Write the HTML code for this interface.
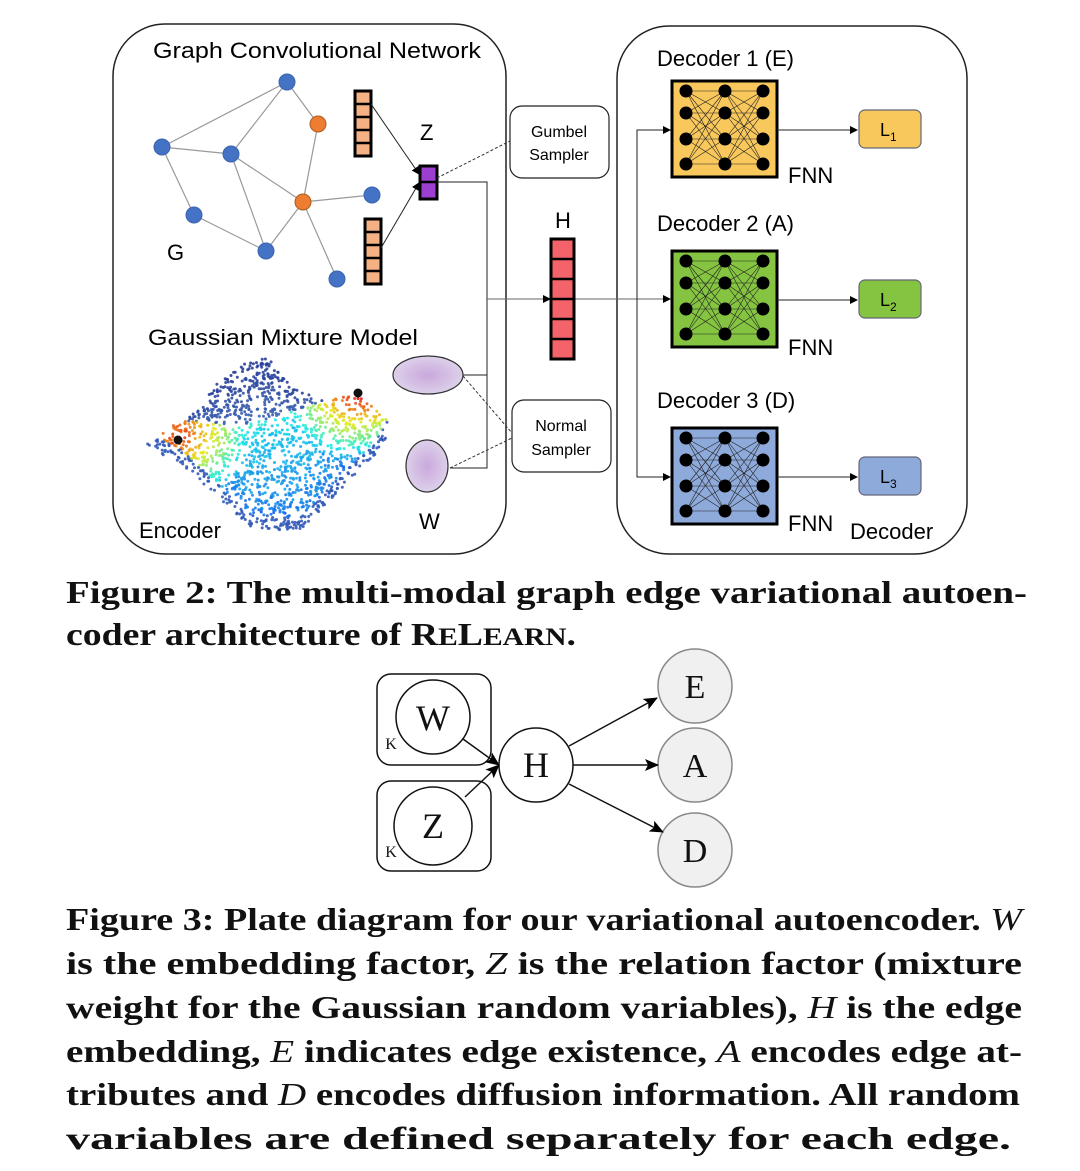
<!DOCTYPE html>
<html><head><meta charset="utf-8"><style>
html,body{margin:0;padding:0;background:#fff;}
svg{display:block;}
.s{font-family:"Liberation Sans",sans-serif;}
.c{font-family:"Liberation Serif",serif;font-weight:bold;font-size:32px;fill:#111;}
.i{font-style:italic;font-weight:normal;}
</style></head><body>
<svg id="sv" width="1080" height="1171" viewBox="0 0 1080 1171" xmlns="http://www.w3.org/2000/svg">
<defs>
<marker id="ar" markerWidth="8" markerHeight="8" refX="7" refY="4" orient="auto" markerUnits="userSpaceOnUse"><path d="M0,0 L8,4 L0,8 z" fill="#000"/></marker>
<marker id="ab" markerWidth="14" markerHeight="12" refX="13" refY="6" orient="auto" markerUnits="userSpaceOnUse"><path d="M0,0 L14,6 L0,12 L3,6 z" fill="#000"/></marker>
<radialGradient id="eg"><stop offset="0" stop-color="#c9a8dc"/><stop offset="1" stop-color="#ddd0ea"/></radialGradient>
</defs>
<rect x="113" y="24" width="393" height="530" rx="52" fill="none" stroke="#222" stroke-width="1.5"/>
<rect x="617" y="26" width="350" height="528" rx="52" fill="none" stroke="#222" stroke-width="1.5"/>
<text class="s" x="153" y="58" font-size="22" textLength="328" lengthAdjust="spacingAndGlyphs">Graph Convolutional Network</text>
<g stroke="#999" stroke-width="1.2">
<line x1="287" y1="82" x2="162" y2="147"/><line x1="287" y1="82" x2="231" y2="154"/><line x1="287" y1="82" x2="318" y2="124"/>
<line x1="162" y1="147" x2="231" y2="154"/><line x1="162" y1="147" x2="194" y2="215"/>
<line x1="231" y1="154" x2="303" y2="202"/><line x1="231" y1="154" x2="266" y2="251"/>
<line x1="318" y1="124" x2="303" y2="202"/><line x1="303" y1="202" x2="372" y2="195"/>
<line x1="303" y1="202" x2="266" y2="251"/><line x1="303" y1="202" x2="337" y2="279"/>
<line x1="194" y1="215" x2="266" y2="251"/>
</g>
<g fill="#4472c4" stroke="#3a64b0" stroke-width="1">
<circle cx="287" cy="82" r="8"/><circle cx="162" cy="147" r="8"/><circle cx="231" cy="154" r="8"/>
<circle cx="372" cy="195" r="8"/><circle cx="194" cy="215" r="8"/><circle cx="266" cy="251" r="8"/><circle cx="337" cy="279" r="8"/>
</g>
<g fill="#ed7d31" stroke="#b05a20" stroke-width="1"><circle cx="318" cy="124" r="8"/><circle cx="303" cy="202" r="8"/></g>
<text class="s" x="167" y="260" font-size="22">G</text>
<g id="ov"></g>
<text class="s" x="420" y="140" font-size="22">Z</text>
<line x1="371" y1="104" x2="419" y2="174" stroke="#222" stroke-width="1" marker-end="url(#ar)"/>
<line x1="381" y1="248" x2="419" y2="183" stroke="#222" stroke-width="1" marker-end="url(#ar)"/>
<rect x="420" y="166" width="17" height="33" fill="#9a3fd0" stroke="#000" stroke-width="3"/>
<line x1="420" y1="182" x2="437" y2="182" stroke="#000" stroke-width="2.5"/>
<polyline points="437,182 487,182 487,468 450,468" fill="none" stroke="#222" stroke-width="1"/>
<line x1="463" y1="375" x2="487" y2="375" stroke="#222" stroke-width="1"/>
<line x1="487" y1="299" x2="550" y2="299" stroke="#666" stroke-width="1" marker-end="url(#ar)"/>
<line x1="574" y1="299" x2="670" y2="299" stroke="#666" stroke-width="1" marker-end="url(#ar)"/>
<g stroke="#333" stroke-width="1" stroke-dasharray="3,2" fill="none">
<line x1="437" y1="178" x2="510" y2="141"/><line x1="463" y1="376" x2="512" y2="433"/><line x1="450" y1="468" x2="512" y2="438"/>
</g>
<rect x="510" y="106" width="99" height="72" rx="12" fill="#fff" stroke="#222" stroke-width="1.2"/>
<text class="s" x="559" y="137" font-size="16" text-anchor="middle">Gumbel</text>
<text class="s" x="559" y="160" font-size="16" text-anchor="middle">Sampler</text>
<rect x="512" y="400" width="99" height="72" rx="12" fill="#fff" stroke="#222" stroke-width="1.2"/>
<text class="s" x="561" y="431" font-size="16" text-anchor="middle">Normal</text>
<text class="s" x="561" y="455" font-size="16" text-anchor="middle">Sampler</text>
<text class="s" x="563" y="228" font-size="22" text-anchor="middle">H</text>
<g id="hv"></g>
<text class="s" x="148" y="345" font-size="22" textLength="270" lengthAdjust="spacingAndGlyphs">Gaussian Mixture Model</text>
<ellipse cx="428" cy="375" rx="35" ry="19" fill="url(#eg)" stroke="#333" stroke-width="1.2"/>
<ellipse cx="427" cy="466" rx="21" ry="26" fill="url(#eg)" stroke="#333" stroke-width="1.2"/>
<text class="s" x="419" y="529" font-size="22">W</text>
<g id="pts"></g>
<circle cx="178" cy="440" r="4.5" fill="#111"/><circle cx="358" cy="393" r="4.5" fill="#111"/>
<text class="s" x="139" y="538" font-size="22">Encoder</text>
<text class="s" x="657" y="66" font-size="22">Decoder 1 (E)</text>
<text class="s" x="657" y="231" font-size="22">Decoder 2 (A)</text>
<text class="s" x="657" y="408" font-size="22">Decoder 3 (D)</text>
<polyline points="672,130 637,130 637,477 670,477" fill="none" stroke="#222" stroke-width="1"/>
<line x1="637" y1="130" x2="670" y2="130" stroke="#222" stroke-width="1" marker-end="url(#ar)"/>
<line x1="637" y1="477" x2="670" y2="477" stroke="#222" stroke-width="1" marker-end="url(#ar)"/>
<g id="fnn"></g>
<g class="s" font-size="22"><text x="788" y="183">FNN</text><text x="788" y="355">FNN</text><text x="788" y="531">FNN</text><text x="850" y="539">Decoder</text></g>
<text class="c" x="66" y="603" textLength="961" lengthAdjust="spacingAndGlyphs">Figure 2: The multi-modal graph edge variational autoen-</text>
<text class="c" x="66" y="645" textLength="510" lengthAdjust="spacingAndGlyphs">coder architecture of R<tspan font-size="25">E</tspan>L<tspan font-size="25">EARN</tspan>.</text>
<rect x="377" y="674" width="114" height="91" rx="14" fill="none" stroke="#111" stroke-width="1.5"/>
<rect x="377" y="781" width="114" height="90" rx="14" fill="none" stroke="#111" stroke-width="1.5"/>
<circle cx="433" cy="717" r="37" fill="#fff" stroke="#111" stroke-width="1.5"/>
<circle cx="433" cy="826" r="39" fill="#fff" stroke="#111" stroke-width="1.5"/>
<circle cx="536" cy="765" r="37" fill="#fff" stroke="#111" stroke-width="1.5"/>
<g fill="#f0f0f0" stroke="#888" stroke-width="1.5"><circle cx="695" cy="686" r="37"/><circle cx="695" cy="765" r="37"/><circle cx="695" cy="850" r="37"/></g>
<g stroke="#111" stroke-width="1.5" fill="none">
<line x1="463" y1="739" x2="499" y2="765" marker-end="url(#ab)"/>
<line x1="465" y1="797" x2="499" y2="765" marker-end="url(#ab)"/>
<line x1="569" y1="746" x2="657" y2="698" marker-end="url(#ab)"/>
<line x1="573" y1="765" x2="658" y2="765" marker-end="url(#ab)"/>
<line x1="569" y1="784" x2="663" y2="832" marker-end="url(#ab)"/>
</g>
<g font-family="Liberation Serif,serif" fill="#111" text-anchor="middle">
<text x="433" y="730" font-size="36">W</text><text x="433" y="838" font-size="36">Z</text><text x="536" y="777" font-size="36">H</text>
<text x="695" y="698" font-size="34">E</text><text x="695" y="777" font-size="34">A</text><text x="695" y="862" font-size="34">D</text>
<text x="391" y="749" font-size="16">K</text><text x="391" y="857" font-size="16">K</text>
</g>
<text class="c" x="66" y="930" textLength="956" lengthAdjust="spacingAndGlyphs">Figure 3: Plate diagram for our variational autoencoder. <tspan class="i">W</tspan></text>
<text class="c" x="66" y="974" textLength="956" lengthAdjust="spacingAndGlyphs">is the embedding factor, <tspan class="i">Z</tspan> is the relation factor (mixture</text>
<text class="c" x="66" y="1018" textLength="956" lengthAdjust="spacingAndGlyphs">weight for the Gaussian random variables), <tspan class="i">H</tspan> is the edge</text>
<text class="c" x="66" y="1062" textLength="956" lengthAdjust="spacingAndGlyphs">embedding, <tspan class="i">E</tspan> indicates edge existence, <tspan class="i">A</tspan> encodes edge at-</text>
<text class="c" x="66" y="1105" textLength="954" lengthAdjust="spacingAndGlyphs">tributes and <tspan class="i">D</tspan> encodes diffusion information.  All random</text>
<text class="c" x="66" y="1149" textLength="945" lengthAdjust="spacingAndGlyphs">variables are defined separately for each edge.</text>
</svg>
<script>
(function(){
var NS="http://www.w3.org/2000/svg";
function el(p,t,a){var e=document.createElementNS(NS,t);for(var k in a)e.setAttribute(k,a[k]);p.appendChild(e);return e;}
var ov=document.getElementById('ov');
function vec(g,x,y,w,h,n,fill){el(g,'rect',{x:x,y:y,width:w,height:h,fill:fill,stroke:'#000','stroke-width':3});for(var i=1;i<n;i++){var yy=y+h*i/n;el(g,'line',{x1:x,y1:yy,x2:x+w,y2:yy,stroke:'#000','stroke-width':2.5});}}
vec(ov,355,91,16,65,5,'#f4b183');vec(ov,365,219,16,65,5,'#f4b183');
vec(document.getElementById('hv'),551,239,23,120,6,'#f4636a');
var fg=document.getElementById('fnn');
var cols=['#f9c85c','#85c441','#8eaadb'],ys=[81,251,428],ly=[110,280,457];
for(var b=0;b<3;b++){var y0=ys[b];
el(fg,'rect',{x:672,y:y0,width:105,height:96,fill:cols[b],stroke:'#000','stroke-width':3});
var cx=[686,725,763],ry=[10,32,58,83];
for(var c=0;c<2;c++)for(var i=0;i<4;i++)for(var j=0;j<4;j++)el(fg,'line',{x1:cx[c],y1:y0+ry[i],x2:cx[c+1],y2:y0+ry[j],stroke:'#222','stroke-width':0.6});
for(var c=0;c<3;c++)for(var i=0;i<4;i++)el(fg,'circle',{cx:cx[c],cy:y0+ry[i],r:6.5,fill:'#000'});
var my=y0+49;
el(fg,'line',{x1:777,y1:my,x2:857,y2:my,stroke:'#222','stroke-width':1,'marker-end':'url(#ar)'});
el(fg,'rect',{x:859,y:ly[b],width:62,height:38,rx:6,fill:cols[b],stroke:'#667','stroke-width':1.2});
var t=el(fg,'text',{x:880,y:ly[b]+26,'font-size':18,'font-family':'Liberation Sans,sans-serif'});t.textContent='L';
var s=el(fg,'tspan',{'font-size':12,dy:5});s.textContent=String(b+1);t.appendChild(s);}
function pw(pts,x){for(var i=0;i<pts.length-1;i++){if(x>=pts[i][0]&&x<=pts[i+1][0]){var f=(x-pts[i][0])/(pts[i+1][0]-pts[i][0]);return pts[i][1]+f*(pts[i+1][1]-pts[i][1]);}}return null;}
var ridge=[[143,447],[180,420],[240,427],[297,410],[357,392],[392,425]];
var bot=[[143,447],[180,462],[215,495],[250,528],[300,532],[340,490],[375,455],[392,428]];
var tops=[[188,419],[215,385],[245,362],[268,358],[290,385],[325,402]];
function jet(v){v=Math.max(0,Math.min(1,v));function c(x){x=Math.max(0,Math.min(1,x));return Math.round(255*(0.82*x+0.1));}return 'rgb('+c(1.5-Math.abs(4*v-3))+','+c(1.5-Math.abs(4*v-2))+','+c(1.5-Math.abs(4*v-1))+')';}
var seed=7;function rnd(){seed=(seed*16807)%2147483647;return seed/2147483647;}
var pg=document.getElementById('pts');
for(var k=0;k<6000;k++){var x=143+rnd()*249,y=355+rnd()*180;
var r=pw(ridge,x),bt=pw(bot,x),tp=pw(tops,x),v=null,col=null;
if(r!==null&&bt!==null&&y>=r&&y<=bt){if(rnd()>0.5)continue;
var d1=Math.hypot(x-178,y-440),d2=Math.hypot(x-358,y-393);var d=Math.min(d1,d2);
var depth=(y-r)/Math.max(20,bt-r);
v=0.36-0.14*depth+Math.max(0,1-d/70)*0.55;if(y-r<5)v=Math.max(v,0.4);
if(bt-y<14)col='rgb(50,90,185)';}
else if(tp!==null&&r!==null&&y>=tp&&y<r){if(rnd()>0.55)continue;var q=(y-tp)/(r-tp);col='rgb('+Math.round(40+20*q)+','+Math.round(60+40*q)+','+Math.round(150+30*q)+')';}
else continue;
el(pg,'circle',{cx:x.toFixed(1),cy:y.toFixed(1),r:1.5,fill:col||jet(v+(rnd()-0.5)*0.06),'fill-opacity':0.9});}
})();
</script>
</body></html>
